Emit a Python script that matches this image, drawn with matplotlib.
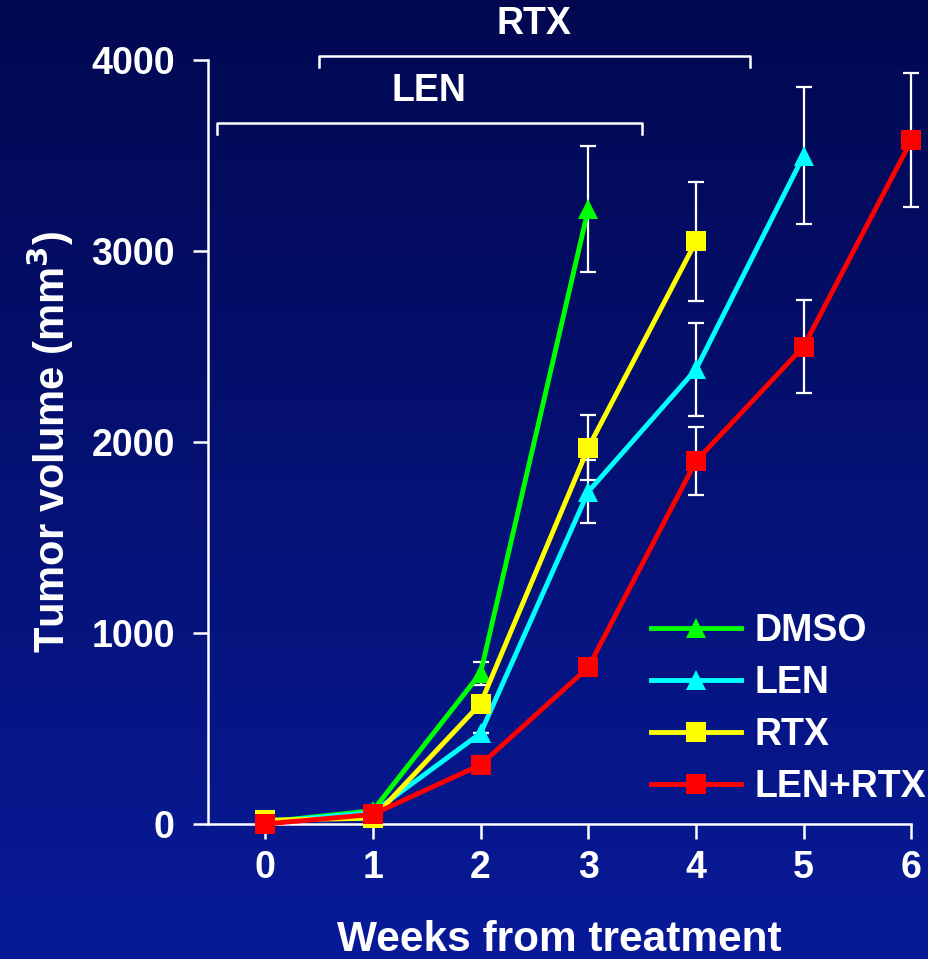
import numpy as np
import matplotlib

matplotlib.use('Agg')
import matplotlib.pyplot as plt

plt.rcParams['font.family'] = ['Liberation Sans', 'DejaVu Sans']
plt.rcParams['font.weight'] = 'bold'

# weeks from treatment
weeks = [0, 1, 2, 3, 4, 5, 6]

dmso = [10, 70, 790, 3220]
dmso_err = [0, 0, 60, 330]

len_mean = [10, 60, 475, 1740, 2380, 3500]
len_err = [0, 0, 0, 165, 245, 360]

rtx = [20, 30, 630, 1970, 3050]
rtx_err = [0, 0, 0, 170, 310]

combo = [0, 50, 310, 820, 1900, 2500, 3580]
combo_err = [0, 0, 0, 0, 180, 245, 350]

series = [
    ("DMSO", dmso, dmso_err, '#00ff00', '^'),
    ("LEN", len_mean, len_err, '#00ffff', '^'),
    ("RTX", rtx, rtx_err, '#ffff00', 's'),
    ("LEN+RTX", combo, combo_err, '#ff0000', 's'),
]

# treatment windows (start week, end week, level)
len_window = (-0.45, 3.5, 3670)
rtx_window = (0.5, 4.5, 4020)

fig = plt.figure(figsize=(9.29, 9.59), dpi=100)

# blue gradient background
bg = fig.add_axes([0, 0, 1, 1], zorder=-10)
grad = np.linspace(0, 1, 256)[:, None]
top = np.array([2, 8, 80]) / 255.
bottom = np.array([8, 26, 152]) / 255.
img = top[None, None, :] * (1 - grad[:, :, None]) + bottom[None, None, :] * grad[:, :, None]
bg.imshow(img, aspect='auto', extent=[0, 1, 0, 1])
bg.axis('off')

ax = fig.add_axes([0.224, 0.1408, 0.757, 0.7966])
ax.set_facecolor('none')

for name, vals, err, col, mk in series:
    x = weeks[:len(vals)]
    ax.errorbar(x, vals, yerr=err, fmt='none', ecolor='white', elinewidth=1.6,
                capsize=6, capthick=1.6, zorder=2, clip_on=False)
    ax.plot(x, vals, color=col, lw=3.5, marker=mk, markersize=14 if mk == 's' else 15,
            markeredgewidth=0, label=name, zorder=3, clip_on=False)

ax.set_xlim(-0.53, 6.0)
ax.set_ylim(0, 4000)
ax.set_xticks(weeks)
ax.set_yticks([0, 1000, 2000, 3000, 4000])

for s in ['top', 'right']:
    ax.spines[s].set_visible(False)
for s in ['left', 'bottom']:
    ax.spines[s].set_color('white')
    ax.spines[s].set_linewidth(1.8)

ax.tick_params(axis='both', colors='white', labelsize=27, width=1.8, length=11)
ax.tick_params(axis='y', pad=13)
ax.tick_params(axis='x', pad=8)

ax.set_ylabel('Tumor volume (mm$^\\mathbf{3}$)', color='white', fontsize=30,
              fontweight='bold', labelpad=11)
ax.set_xlabel('Weeks from treatment', color='white', fontsize=30.5,
              fontweight='bold', labelpad=24)

# treatment brackets
for (x0, x1, yl), label in [(len_window, 'LEN'), (rtx_window, 'RTX')]:
    ax.plot([x0, x0, x1, x1], [yl - 55, yl, yl, yl - 55], color='white', lw=1.8,
            clip_on=False)
    ax.text((x0 + x1) / 2, yl + 75, label, color='white', fontsize=27,
            fontweight='bold', ha='center', va='bottom')

leg = ax.legend(loc='lower right', bbox_to_anchor=(1.042, 0.005), frameon=False,
                fontsize=27, handlelength=2.4, labelspacing=0.43, handletextpad=0.35,
                borderaxespad=0)
for t in leg.get_texts():
    t.set_color('white')
    t.set_fontweight('bold')

fig.savefig('out.png', dpi=100)
